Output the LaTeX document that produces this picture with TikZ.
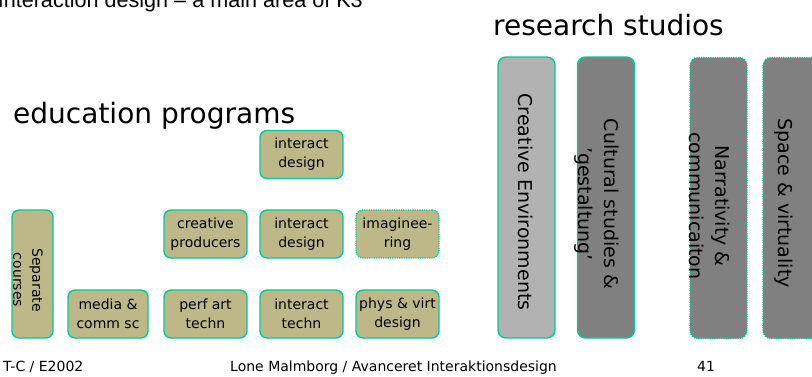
\documentclass[tikz,border=0pt]{standalone}
\usepackage{fontspec}
\setmainfont{DejaVu Sans}
\newfontfamily\arialf{Liberation Sans}
\definecolor{khaki}{RGB}{190,184,137}
\definecolor{bordgreen}{RGB}{0,204,153}
\definecolor{lgray}{RGB}{178,178,178}
\definecolor{dgray}{RGB}{128,128,128}
\begin{document}
\begin{tikzpicture}[x=1pt,y=-1pt,
  edubox/.style={draw=bordgreen, fill=khaki, line width=1.4pt, rounded corners=7pt,
    minimum width=83pt, minimum height=48pt, inner sep=0pt, align=center,
    font=\fontsize{14}{19}\selectfont},
  dotborder/.style={dash pattern=on 1.2pt off 1.1pt},
  resbox/.style={draw=bordgreen, line width=1.4pt, rounded corners=8pt,
    minimum width=57pt, minimum height=281pt, inner sep=0pt},
  restext/.style={rotate=-90, align=center, inner sep=0pt,
    font=\fontsize{19}{26}\selectfont},
  title/.style={anchor=base west, inner sep=0pt, font=\fontsize{28}{30}\selectfont},
  foot/.style={inner sep=0pt, font=\fontsize{14}{16}\selectfont}]
\useasboundingbox (0,0) rectangle (812,376);
\fill[white] (0,0) rectangle (812,376);

% cut-off slide title
\node[anchor=base east, inner sep=0pt, font=\arialf\fontsize{21.6}{24}\selectfont] (top) at (363,7) {Interaction design \textendash{} a main area of K3};

% headings
\node[title] (edu) at (13,123) {education programs};
\node[title] (res) at (493,35) {research studios};

% education programs
\node[edubox] (ixd1) at (301.5,154.5) {interact\\design};
\node[edubox] (crp) at (205.5,234) {creative\\producers};
\node[edubox] (ixd2) at (301.5,234) {interact\\design};
\node[edubox, dotborder] (img) at (397.5,234) {imaginee-\\ring};
\node[edubox, minimum width=80pt] (med) at (108,314) {media \&\\comm sc};
\node[edubox] (prf) at (205.5,314) {perf art\\techn};
\node[edubox] (ixt) at (301.5,314) {interact\\techn};
\node[edubox] (phy) at (397.5,314) {phys \& virt\\design};
\node[edubox, minimum width=41pt, minimum height=128pt] (sep) at (32.5,274) {};
\node[rotate=-90, align=center, inner sep=0pt, font=\fontsize{14}{19}\selectfont] (septx) at (28,280) {Separate\\courses};

% research studios
\node[resbox, fill=lgray] (ce) at (526.5,197.5) {};
\node[restext] (cet) at (526,202) {Creative Environments};
\node[resbox, fill=dgray] (cs) at (606,197.5) {};
\node[restext] (cst) at (597,204) {Cultural studies \&\\\textquoteright gestaltung\textquoteright};
\node[resbox, fill=dgray, dotborder] (nc) at (718.5,198) {};
\node[restext] (nct) at (710,206) {Narrativity \&\\communicaiton};
\node[resbox, fill=dgray, dotborder] (sv) at (791.5,198) {};
\node[restext] (svt) at (784,203) {Space \& virtuality};

% footer
\node[foot, anchor=base west] (f1) at (3,371) {T-C / E2002};
\node[foot, anchor=base west] (f2) at (230,371) {Lone Malmborg / Avanceret Interaktionsdesign};
\node[foot, anchor=base west] (f3) at (697,371) {41};
\end{tikzpicture}
\end{document}
